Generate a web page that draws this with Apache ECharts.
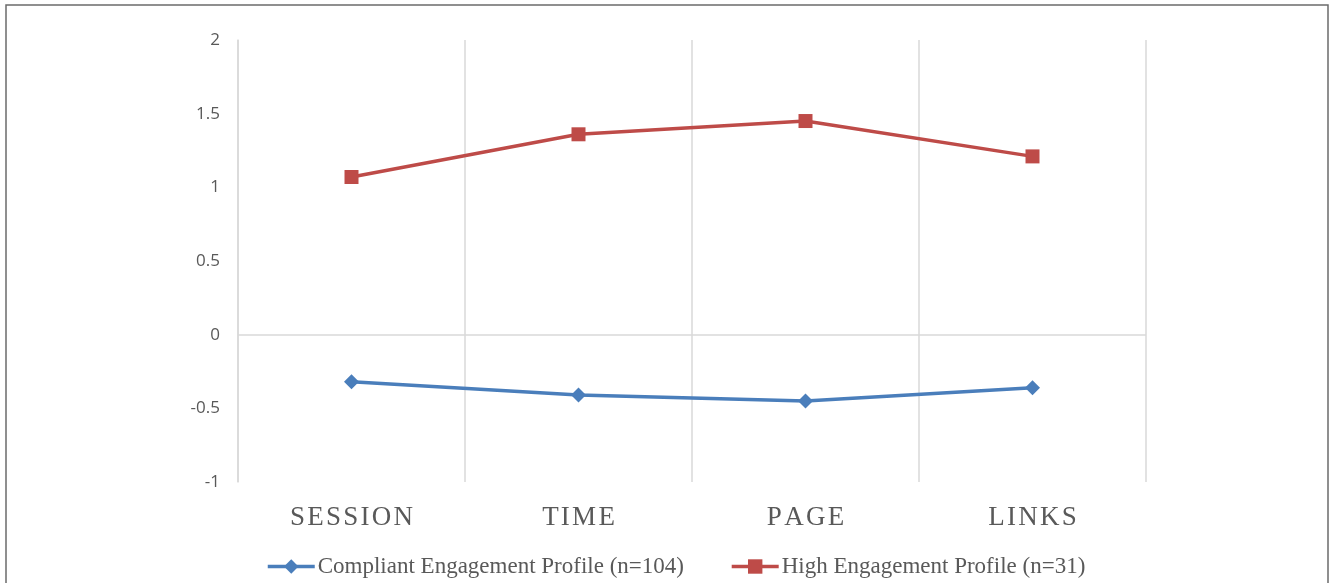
<!DOCTYPE html>
<html>
<head>
<meta charset="utf-8">
<script src="https://cdn.jsdelivr.net/npm/echarts@6/dist/echarts.min.js"></script>
<style>
  html, body { margin: 0; padding: 0; background: #ffffff; }
  #chart { width: 1330px; height: 583px; }
</style>
</head>
<body>
<div id="chart"></div>
<script>
// Engagement profile means (standardised) across four activity measures
const categories = ['SESSION', 'TIME', 'PAGE', 'LINKS'];
const compliantProfile = [-0.32, -0.41, -0.45, -0.36];
const highProfile = [1.07, 1.36, 1.45, 1.21];
const seriesNames = ['Compliant Engagement Profile (n=104)', 'High Engagement Profile (n=31)'];
const yTicks = { min: -1, max: 2, step: 0.5 };

// spread capital letters a little, like tracked small caps
const spaced = s => s.split('').join('\u200A');

const chart = echarts.init(document.getElementById('chart'), null, { renderer: 'canvas' });

chart.setOption({
  animation: false,
  backgroundColor: '#ffffff',
  grid: { left: 238, right: 184, top: 40, bottom: 101, containLabel: false },
  graphic: [{
    type: 'polyline',
    silent: true,
    shape: { points: [[6, 583], [6, 5], [1328, 5], [1328, 583]] },
    style: { stroke: '#6b6b6b', lineWidth: 1.5, fill: null }
  }],
  legend: {
    bottom: 0,
    left: 261,
    itemWidth: 47,
    itemHeight: 18,
    itemGap: 46,
    lineStyle: { width: 3.5 },
    textStyle: { fontFamily: '"Liberation Serif", "Times New Roman", serif', fontSize: 23, color: '#595959', padding: [0, 0, 0, -2] },
    data: seriesNames
  },
  xAxis: {
    type: 'category',
    data: categories,
    boundaryGap: true,
    axisLine: { show: false },
    axisTick: { show: false },
    splitLine: { show: true, lineStyle: { color: '#d9d9d9', width: 1.5 } },
    axisLabel: {
      margin: 22,
      color: '#595959',
      fontFamily: '"Liberation Serif", "Times New Roman", serif',
      fontSize: 27,
      formatter: v => spaced(v)
    }
  },
  yAxis: {
    type: 'value',
    min: yTicks.min,
    max: yTicks.max,
    interval: yTicks.step,
    axisLine: { show: true, lineStyle: { color: '#d9d9d9', width: 1.5 } },
    axisTick: { show: false },
    splitLine: { show: false },
    axisLabel: {
      margin: 18,
      color: '#595959',
      fontFamily: '"Open Sans", "Liberation Sans", sans-serif',
      fontSize: 17,
      padding: [4, 0, 0, 0]
    }
  },
  series: [
    {
      name: seriesNames[0],
      type: 'line',
      data: compliantProfile,
      symbol: 'diamond',
      symbolSize: 15,
      lineStyle: { color: '#4A7EBB', width: 3.5 },
      itemStyle: { color: '#4A7EBB' },
      markLine: {
        silent: true,
        symbol: 'none',
        label: { show: false },
        lineStyle: { color: '#d9d9d9', width: 1.5, type: 'solid' },
        data: [{ yAxis: 0 }]
      }
    },
    {
      name: seriesNames[1],
      type: 'line',
      data: highProfile,
      symbol: 'rect',
      symbolSize: 14,
      lineStyle: { color: '#BE4B48', width: 3.5 },
      itemStyle: { color: '#BE4B48' }
    }
  ]
});
</script>
</body>
</html>
